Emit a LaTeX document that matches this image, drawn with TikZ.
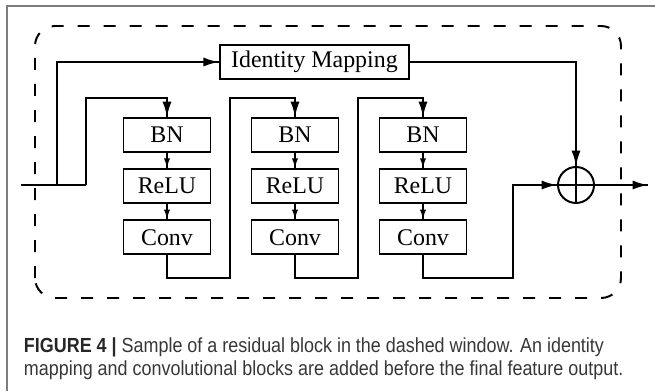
\documentclass[tikz,border=0pt]{standalone}
\usepackage{fontspec}
\setmainfont{Liberation Serif}
\newfontfamily\capfont[FakeStretch=0.88]{Liberation Sans}
\usetikzlibrary{arrows.meta}
\usetikzlibrary{decorations.markings}
\usetikzlibrary{positioning}
\definecolor{framegray}{RGB}{125,125,125}
\definecolor{captext}{RGB}{55,55,55}
\tikzset{block/.style = {draw, line width=1.4pt, minimum width=2.175cm,
                         minimum height=0.85cm, inner sep=0pt,
                         font=\fontsize{17}{20}\selectfont}}
\tikzset{flow/.style = {decoration={markings,
                                    mark=at position 1 with {\arrow{Latex[length=11pt,width=6.5pt]}}},
                        postaction={decorate}}}
\tikzset{flowsmall/.style = {decoration={markings,
                                         mark=at position 1 with {\arrow{Latex[length=7pt,width=4.5pt]}}},
                             postaction={decorate}}}
\tikzset{captionline/.style = {anchor=base west, text=captext, inner sep=0pt}}

\begin{document}
\begin{tikzpicture}[line width=1.4pt]
      \useasboundingbox (0, 0) rectangle (16.375, 9.775);
      \draw [framegray, line width=1pt] (0.175, 0) -- (0.175, 9.625) -- (16.375, 9.625);
      \draw [dash pattern=on 0.3cm off 0.35cm, rounded corners=0.5cm]
            (0.875, 2.325) rectangle (15.525, 9.125);

      \node [block, minimum width=4.725cm] (idmap) at (7.86, 8.225) {Identity Mapping};
      \foreach \i/\x in {1/4.175, 2/7.375, 3/10.575} {
        \node [block] (bn\i) at (\x, 6.4) {BN};
        \node [block] (relu\i) at (\x, 5.12) {ReLU};
        \node [block] (conv\i) at (\x, 3.84) {Conv};
        \draw [flowsmall] (bn\i) -- (relu\i);
        \draw [flowsmall] (relu\i) -- (conv\i);
      }
      \node [draw, circle, line width=1.4pt, minimum size=0.9cm, inner sep=0pt] (sum) at (14.4, 5.15) {};
      \draw (sum.north) -- (sum.south) (sum.west) -- (sum.east);

      \coordinate (in) at (0.525, 5.15);
      \coordinate (splitA) at (1.425, 5.15);
      \coordinate (splitB) at (2.15, 5.15);
      \coordinate (topB) at (2.15, 7.325);
      \coordinate (bot1) at (5.75, 2.825);
      \coordinate (top1) at (5.75, 7.325);
      \coordinate (bot2) at (8.95, 2.825);
      \coordinate (top2) at (8.95, 7.325);
      \coordinate (bot3) at (12.825, 2.825);
      \coordinate (out) at (16.2, 5.15);

      \draw (in) -- (splitB);
      \draw [flow] (splitA) |- (idmap.west);
      \draw [flow] (splitB) -- (topB) -| (bn1.north);
      \draw [flow] (conv1.south) |- (bot1) -- (top1) -| (bn2.north);
      \draw [flow] (conv2.south) |- (bot2) -- (top2) -| (bn3.north);
      \draw [flow] (conv3.south) |- (bot3) |- (sum.west);
      \draw [flow] (idmap.east) -| (sum.north);
      \draw [flow] (sum.east) -- (out);

      \node [captionline] (cap1) at (0.575, 0.975)
            {\capfont\fontsize{14.5}{16}\selectfont\textbf{\color{black!85}FIGURE 4 |} Sample of a residual block in the dashed window. An identity};
      \node [captionline] (cap2) at (0.575, 0.4)
            {\capfont\fontsize{14.5}{16}\selectfont mapping and convolutional blocks are added before the final feature output.};
\end{tikzpicture}
\end{document}
